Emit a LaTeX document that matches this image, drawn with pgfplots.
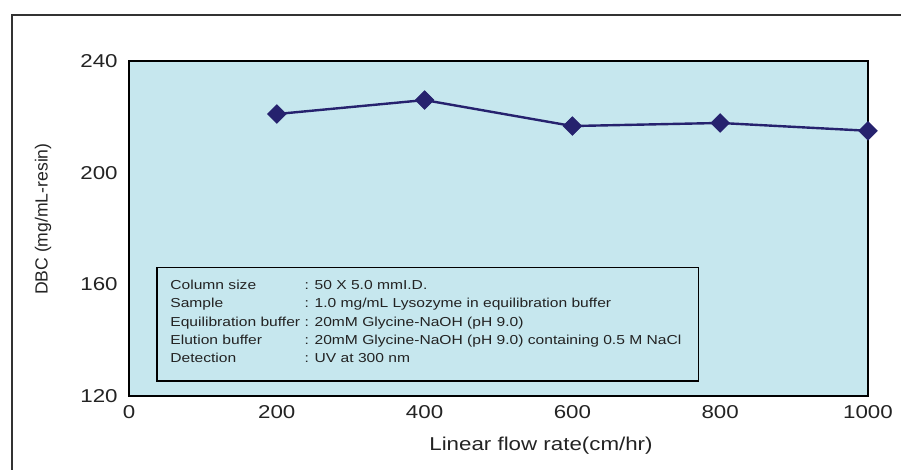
\documentclass[border=0pt]{standalone}
\usepackage{fontspec}
\setmainfont{Liberation Sans}[FakeStretch=1.2]
\newfontfamily\plainsans{Liberation Sans}
\usepackage{pgfplots}
\pgfplotsset{compat=1.18}
\definecolor{bg}{RGB}{198,231,238}
\definecolor{navy}{RGB}{38,34,110}
\definecolor{framec}{RGB}{50,50,50}
\definecolor{txt}{RGB}{35,35,35}
\begin{document}
\begin{tikzpicture}
\useasboundingbox (-64.5pt,-37pt) rectangle (386pt,198pt);
\draw[framec, line width=1.2pt] (-58.5pt,-40pt) -- (-58.5pt,190.5pt) -- (390pt,190.5pt);
\begin{axis}[
 at={(0pt,0pt)}, anchor=south west, scale only axis,
 width=369.5pt, height=167.5pt,
 xmin=0, xmax=1000, ymin=120, ymax=240,
 xtick={0,200,400,600,800,1000}, ytick={120,160,200,240},
 major tick length=0pt,
 axis background/.style={fill=bg},
 axis line style={black, line width=0.6pt},
 ticklabel style={font=\fontsize{9.3}{10}\selectfont, inner sep=0pt, text=txt},
 yticklabel style={xshift=-5.5pt},
 xticklabel style={yshift=-4.5pt},
 /pgf/number format/assume math mode=true,
 /pgf/number format/1000 sep={},
 xlabel={Linear flow rate(cm/hr)},
 ylabel={DBC (mg/mL-resin)},
 xlabel style={at={(axis description cs:0.5575,-0.149)}, anchor=center, text=txt, font=\fontsize{9.3}{11}\selectfont},
 ylabel style={at={(axis description cs:-0.1164,0.528)}, anchor=center, text=txt, font=\plainsans\fontsize{8.8}{10}\selectfont},
 clip=false,
]
\draw[black, line width=0.6pt] (axis cs:38,125.4) rectangle (axis cs:771,165.9);
\begin{scope}[every node/.style={anchor=base west, inner sep=0pt, text=txt, font=\fontsize{6.5}{8}\selectfont}]
\node at (axis cs:55.5,158.15) {Column size};
\node at (axis cs:237,158.15) {: 50 X 5.0 mmI.D.};
\node at (axis cs:55.5,151.7) {Sample};
\node at (axis cs:237,151.7) {: 1.0 mg/mL Lysozyme in equilibration buffer};
\node at (axis cs:55.5,144.9) {Equilibration buffer};
\node at (axis cs:237,144.9) {: 20mM Glycine-NaOH (pH 9.0)};
\node at (axis cs:55.5,138.45) {Elution buffer};
\node at (axis cs:237,138.45) {: 20mM Glycine-NaOH (pH 9.0) containing 0.5 M NaCl};
\node at (axis cs:55.5,132.0) {Detection};
\node at (axis cs:237,132.0) {: UV at 300 nm};
\end{scope}
\addplot[navy, line width=1.2pt, mark=square*, mark size=3.3pt, mark options={rotate=45, fill=navy, line width=0.3pt}] coordinates {
(200,221) (400,226) (600,216.7) (800,217.8) (1000,215)
};
\end{axis}
\end{tikzpicture}
\end{document}
